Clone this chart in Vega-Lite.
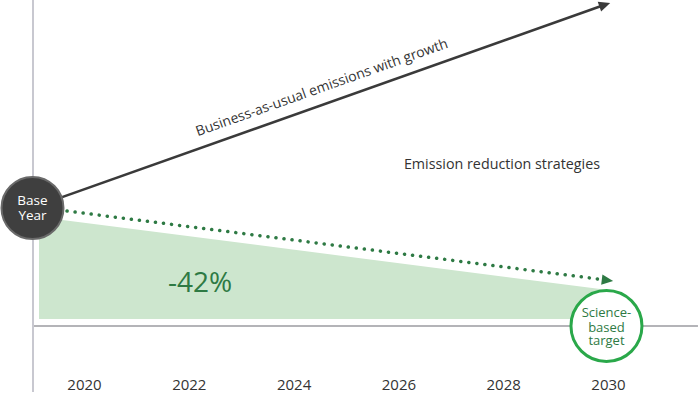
{
  "$schema": "https://vega.github.io/schema/vega-lite/v6.json",
  "width": 700,
  "height": 370,
  "autosize": {"type": "none"},
  "padding": {"left": 0, "top": 0, "right": 0, "bottom": 27},
  "config": {"view": {"stroke": null}, "font": "Open Sans"},
  "encoding": {
    "x": {
      "field": "year", "type": "quantitative",
      "scale": {"domain": [2018.397, 2031.756], "nice": false, "zero": false},
      "axis": {"values": [2020, 2022, 2024, 2026, 2028, 2030], "format": "d", "domain": false, "ticks": false, "tickSize": 0, "grid": false, "labelFont": "Open Sans", "labelFontSize": 15, "labelColor": "#333333", "labelPadding": 7, "title": null, "labelFlush": false}
    },
    "y": {
      "field": "value", "type": "quantitative",
      "scale": {"domain": [-45, 325], "nice": false, "zero": false},
      "axis": null
    }
  },
  "layer": [
    {
      "data": {"values": [{"year": 2019.141, "value": 108, "base": 6}, {"year": 2030.0, "value": 35, "base": 6}]},
      "mark": {"type": "area", "color": "#cde6ce", "orient": "vertical"},
      "encoding": {"y2": {"field": "base"}}
    },
    {
      "data": {"values": [{"year": 2019.027, "year_end": 2031.717, "value": -1}]},
      "mark": {"type": "rule", "color": "#b4b4b8", "strokeWidth": 2},
      "encoding": {"x2": {"field": "year_end"}}
    },
    {
      "data": {"values": [{"year": 2019.027, "value": 325, "value_end": -67}]},
      "mark": {"type": "rule", "color": "#c8c8d0", "strokeWidth": 2},
      "encoding": {"y2": {"field": "value_end"}}
    },
    {
      "data": {"values": [{"year": 2019.676, "value": 114}, {"year": 2029.886, "value": 45.5}]},
      "mark": {"type": "line", "color": "#2e7a44", "strokeWidth": 3.5, "strokeDash": [0.1, 8], "strokeCap": "round"},
      "encoding": {}
    },
    {
      "data": {"values": [{"year": 2019.017, "value": 117.4}, {"year": 2029.939, "value": 320.2}]},
      "mark": {"type": "line", "color": "#3a3a3a", "strokeWidth": 2.5},
      "encoding": {}
    },
    {
      "data": {"values": [{"year": 2029.939, "value": 320.2}]},
      "mark": {"type": "point", "shape": "M1,0L-1,-0.9L-1,0.9Z", "size": 130, "filled": true, "color": "#3a3a3a", "opacity": 1, "angle": 340.5},
      "encoding": {}
    },
    {
      "data": {"values": [{"year": 2029.99, "value": 44.7}]},
      "mark": {"type": "point", "shape": "M1,0L-1,-0.9L-1,0.9Z", "size": 130, "filled": true, "color": "#2e7a44", "opacity": 1, "angle": 7.3},
      "encoding": {}
    },
    {
      "data": {"values": [{"year": 2019.017, "value": 117}]},
      "mark": {"type": "point", "shape": "circle", "size": 3844, "filled": true, "fill": "#3f3f3f", "stroke": "#6a6a6a", "strokeWidth": 2, "opacity": 1},
      "encoding": {}
    },
    {
      "data": {"values": [{"year": 2019.017, "value": 124, "label": "Base"}, {"year": 2019.017, "value": 109, "label": "Year"}]},
      "mark": {"type": "text", "color": "#ffffff", "fontSize": 13.5, "align": "center", "baseline": "middle", "font": "Open Sans"},
      "encoding": {"text": {"field": "label"}}
    },
    {
      "data": {"values": [{"year": 2029.971, "value": -1}]},
      "mark": {"type": "point", "shape": "circle", "size": 5041, "filled": true, "fill": "#ffffff", "stroke": "#2aa84a", "strokeWidth": 3, "opacity": 1},
      "encoding": {}
    },
    {
      "data": {"values": [{"year": 2029.971, "value": 12, "label": "Science-"}, {"year": 2029.971, "value": -2.5, "label": "based"}, {"year": 2029.971, "value": -16, "label": "target"}]},
      "mark": {"type": "text", "color": "#2e7a44", "fontSize": 13, "align": "center", "baseline": "middle", "font": "Open Sans"},
      "encoding": {"text": {"field": "label"}}
    },
    {
      "data": {"values": [{"year": 2022.214, "value": 41, "label": "-42%"}]},
      "mark": {"type": "text", "color": "#2e7a44", "fontSize": 28, "align": "center", "baseline": "middle", "font": "Open Sans"},
      "encoding": {"text": {"field": "label"}}
    },
    {
      "data": {"values": [{"year": 2024.542, "value": 237, "label": "Business-as-usual emissions with growth"}]},
      "mark": {"type": "text", "color": "#333333", "fontSize": 14, "align": "center", "baseline": "middle", "angle": 340.5, "font": "Open Sans"},
      "encoding": {"text": {"field": "label"}}
    },
    {
      "data": {"values": [{"year": 2027.977, "value": 160, "label": "Emission reduction strategies"}]},
      "mark": {"type": "text", "color": "#333333", "fontSize": 14.3, "align": "center", "baseline": "middle", "font": "Open Sans"},
      "encoding": {"text": {"field": "label"}}
    }
  ]
}
